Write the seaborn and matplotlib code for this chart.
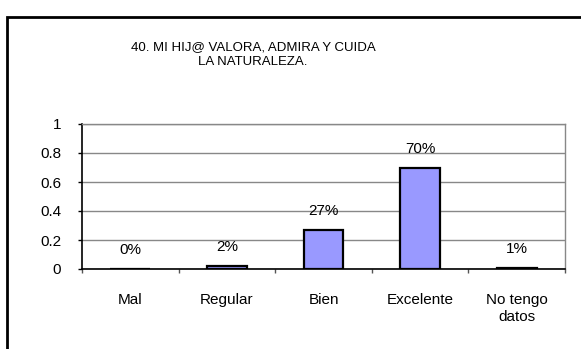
import matplotlib
matplotlib.use("Agg")
import matplotlib.pyplot as plt
import seaborn as sns
import pandas as pd
from matplotlib.patches import Rectangle

categories = ["Mal", "Regular", "Bien", "Excelente", "No tengo\ndatos"]
values = [0.00, 0.02, 0.27, 0.70, 0.01]
labels = ["0%", "2%", "27%", "70%", "1%"]
yticks = [0, 0.2, 0.4, 0.6, 0.8, 1]
ytick_labels = ["0", "0.2", "0.4", "0.6", "0.8", "1"]
title = "40. MI HIJ@ VALORA, ADMIRA Y CUIDA\nLA NATURALEZA."

sns.set_style("white")
plt.rcParams["font.family"] = ["Liberation Sans", "DejaVu Sans"]
plt.rcParams["text.color"] = "black"
plt.rcParams["xtick.color"] = "black"
plt.rcParams["ytick.color"] = "black"

FS = 11
W, H = 581, 349
fig = plt.figure(figsize=(W / 100, H / 100), dpi=100)
fig.patch.set_facecolor("white")

# outer chart frame (runs off the right and bottom edges)
fig.patches.append(Rectangle((7 / W, -0.1), 1.2, 1 - 17 / H + 0.1,
                             transform=fig.transFigure, fill=False,
                             edgecolor="black", linewidth=2))

ax = fig.add_axes([82 / W, 80 / H, (565 - 82) / W, (269 - 124) / H])
df = pd.DataFrame({"cat": categories, "val": values})
sns.barplot(data=df, x="cat", y="val", ax=ax, color="#9999FF",
            saturation=1, width=0.41, edgecolor="black", linewidth=1.6)

ax.set_ylim(0, 1)
ax.set_xlim(-0.5, len(categories) - 0.5)
ax.set_yticks(yticks)
ax.set_yticklabels(ytick_labels, fontsize=FS)
ax.yaxis.grid(True, color="#888888", linewidth=1)
ax.set_axisbelow(True)
ax.set_xlabel("")
ax.set_ylabel("")

# category ticks sit on the boundaries between bars
ax.set_xticks([i - 0.5 for i in range(len(categories) + 1)], minor=True)
ax.set_xticks(range(len(categories)))
ax.set_xticklabels(categories, fontsize=FS, linespacing=1.25)
ax.tick_params(axis="x", which="major", length=0, pad=17.5)
ax.tick_params(axis="x", which="minor", length=3, width=1, color="#555555", direction="out", bottom=True)
ax.tick_params(axis="y", length=3, width=1, color="black", direction="out", left=True, pad=12)

for s in ["top", "right"]:
    ax.spines[s].set_color("#888888")
    ax.spines[s].set_linewidth(1)
for s in ["left", "bottom"]:
    ax.spines[s].set_color("black")
    ax.spines[s].set_linewidth(1.2)

for i, (v, t) in enumerate(zip(values, labels)):
    ax.annotate(t, (i, v), xytext=(0, 13.5), textcoords="offset points",
                ha="center", va="center", fontsize=FS)

fig.text(253 / W, 1 - 54.5 / H, title, ha="center", va="center", fontsize=9.5, linespacing=1.36)

fig.savefig("out.png", dpi=100, facecolor="white")
